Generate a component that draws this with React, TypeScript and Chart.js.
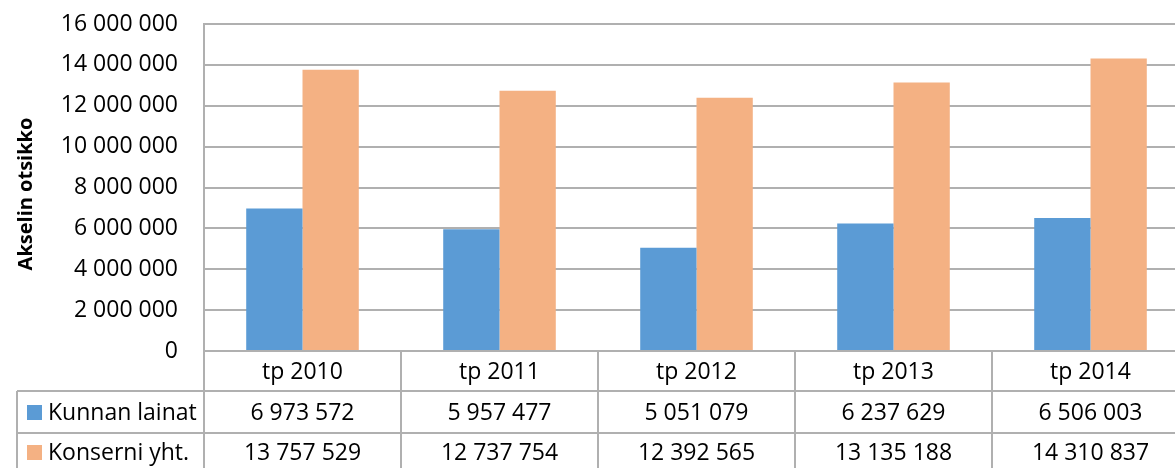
import { useEffect, useRef } from "react";
import { Chart, registerables } from "chart.js";

Chart.register(...registerables);

const categories = ["tp 2010", "tp 2011", "tp 2012", "tp 2013", "tp 2014"];
const kunnanLainat = [6973572, 5957477, 5051079, 6237629, 6506003];
const konserniYht = [13757529, 12737754, 12392565, 13135188, 14310837];
const seriesNames = ["Kunnan lainat", "Konserni yht."];
const seriesColors = ["#5B9BD5", "#F4B183"];
const axisTitle = "Akselin otsikko";
const yMin = 0;
const yMax = 16000000;
const yStep = 2000000;

const FONT = "'Open Sans', 'Liberation Sans', Arial, sans-serif";
const LINE = "#b0b0b0";

const fmt = (n: number) => String(n).replace(/\B(?=(\d{3})+(?!\d))/g, " ");

const tablePlugin = {
  id: "dataTable",
  afterDraw(chart: any) {
    const ctx = chart.ctx as CanvasRenderingContext2D;
    const area = chart.chartArea;
    const x = chart.scales.x;
    const n = categories.length;
    const catW = (area.right - area.left) / n;
    const top = area.bottom;
    const r1 = top + 40;
    const r2 = top + 82;
    const bottom = chart.height;
    const tableLeft = 17;

    ctx.save();
    ctx.strokeStyle = LINE;
    ctx.lineWidth = 2;
    ctx.beginPath();
    ctx.moveTo(area.left, top);
    ctx.lineTo(area.right, top);
    ctx.moveTo(tableLeft, r1);
    ctx.lineTo(area.right, r1);
    ctx.moveTo(tableLeft, r2);
    ctx.lineTo(area.right, r2);
    ctx.moveTo(tableLeft, r1);
    ctx.lineTo(tableLeft, bottom);
    for (let i = 0; i <= n; i++) {
      const xx = area.left + i * catW;
      ctx.moveTo(xx, top);
      ctx.lineTo(xx, bottom);
    }
    ctx.stroke();

    ctx.fillStyle = "#000";
    ctx.font = `23px ${FONT}`;
    ctx.textAlign = "center";
    ctx.textBaseline = "middle";
    const rowsData = [kunnanLainat, konserniYht];
    const rowCenters = [(r1 + r2) / 2 + 1, r2 + 20];
    categories.forEach((c, i) => {
      const cx = x.getPixelForValue(i);
      ctx.fillText(c, cx, (top + r1) / 2 + 1);
      ctx.fillText(fmt(rowsData[0][i]), cx, rowCenters[0]);
      ctx.fillText(fmt(rowsData[1][i]), cx, rowCenters[1]);
    });

    seriesNames.forEach((name, k) => {
      ctx.fillStyle = seriesColors[k];
      ctx.fillRect(27, rowCenters[k] - 8, 15, 15);
      ctx.fillStyle = "#000";
      ctx.textAlign = "left";
      ctx.fillText(name, 48, rowCenters[k]);
    });

    ctx.save();
    ctx.translate(26, 194);
    ctx.rotate(-Math.PI / 2);
    ctx.font = `bold 20px ${FONT}`;
    ctx.textAlign = "center";
    ctx.textBaseline = "middle";
    ctx.fillText(axisTitle, 0, 0);
    ctx.restore();

    ctx.restore();
  },
};

export default function App() {
  const ref = useRef<HTMLCanvasElement>(null);

  useEffect(() => {
    document.body.style.margin = "0";
    const canvas = ref.current!;
    const chart = new Chart(canvas, {
      type: "bar",
      data: {
        labels: categories,
        datasets: [
          {
            label: seriesNames[0],
            data: kunnanLainat,
            backgroundColor: seriesColors[0],
            categoryPercentage: 2 / 3.5,
            barPercentage: 1,
          },
          {
            label: seriesNames[1],
            data: konserniYht,
            backgroundColor: seriesColors[1],
            categoryPercentage: 2 / 3.5,
            barPercentage: 1,
          },
        ],
      },
      options: {
        responsive: false,
        animation: false,
        devicePixelRatio: 1,
        layout: { padding: { top: 24, bottom: 117, left: 0, right: 1 } },
        plugins: {
          legend: { display: false },
          tooltip: { enabled: false },
        },
        scales: {
          x: { display: false },
          y: {
            min: yMin,
            max: yMax,
            afterFit: (s: any) => {
              s.width = 204;
              s.paddingTop = 0;
              s.paddingBottom = 0;
            },
            ticks: {
              stepSize: yStep,
              color: "#000",
              padding: 26,
              font: { family: FONT, size: 23 },
              callback: (v: any) => fmt(Number(v)),
            },
            grid: { color: LINE, lineWidth: 2, drawTicks: false },
            border: { display: true, color: LINE, width: 2 },
          },
        },
      },
      plugins: [tablePlugin],
    });
    return () => chart.destroy();
  }, []);

  return (
    <div
      style={{
        position: "absolute",
        left: 0,
        top: 0,
        width: 1175,
        height: 468,
        overflow: "hidden",
        background: "#fff",
      }}
    >
      <canvas ref={ref} width={1190} height={468} style={{ display: "block" }} />
    </div>
  );
}
